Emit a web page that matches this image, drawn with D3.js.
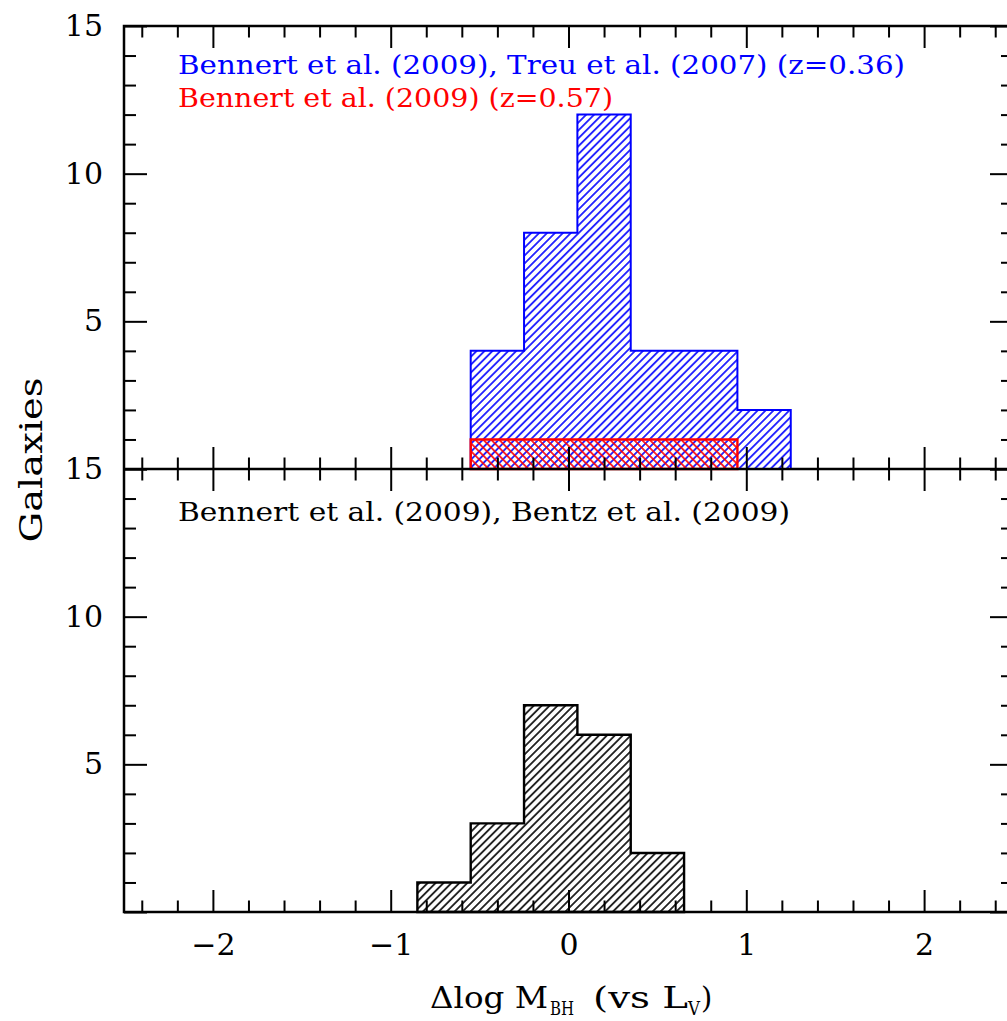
<!DOCTYPE html>
<html>
<head>
<meta charset="utf-8">
<script src="https://cdn.jsdelivr.net/npm/d3@7"></script>
<style>
  html, body { margin: 0; padding: 0; background: #fff; }
  svg { display: block; }
  text { font-family: "DejaVu Serif", "Liberation Serif", serif; }
</style>
</head>
<body>
<svg id="chart" width="1007" height="1021"></svg>
<script>
// Histogram bins of Δlog M_BH (left edges, width 0.3 dex)
const binStarts = [-0.85, -0.55, -0.25, 0.05, 0.35, 0.65, 0.95];
const binWidth = 0.3;

// Upper panel: z=0.36 sample and z=0.57 sample
const countsZ036 = [0, 4, 8, 12, 4, 4, 2];
const countsZ057 = [0, 1, 1, 1, 1, 1, 0];
// Lower panel: local reverberation-mapped sample
const countsLocal = [1, 3, 7, 6, 2, 0, 0];

const xMajorTicks = [-2, -1, 0, 1, 2];
const xMinorTicks = [-2.4, -2.2, -1.8, -1.6, -1.4, -1.2, -0.8, -0.6, -0.4, -0.2,
                     0.2, 0.4, 0.6, 0.8, 1.2, 1.4, 1.6, 1.8, 2.2, 2.4];
const yMajorTicks = [0, 5, 10, 15];
const yLabelTicks = [5, 10, 15];
const yMinorTicks = [1, 2, 3, 4, 6, 7, 8, 9, 11, 12, 13, 14];

const legendTop = [
  { text: "Bennert et al. (2009), Treu et al. (2007) (z=0.36)", color: "#0000ff" },
  { text: "Bennert et al. (2009) (z=0.57)", color: "#ff0000" }
];
const legendBottom = "Bennert et al. (2009), Bentz et al. (2009)";

const svg = d3.select("#chart");
const pLeft = 124, pRight = 1013, pTop = 26, pMid = 469, pBottom = 912;

const x = d3.scaleLinear().domain([-2.5, 2.5]).range([pLeft, pRight]);
const yTop = d3.scaleLinear().domain([0, 15]).range([pMid, pTop]);
const yBot = d3.scaleLinear().domain([0, 15]).range([pBottom, pMid]);

// Hatch patterns
const defs = svg.append("defs");
function hatch(id, color, angle, width) {
  const p = defs.append("pattern")
    .attr("id", id)
    .attr("patternUnits", "userSpaceOnUse")
    .attr("width", 5.6).attr("height", 10)
    .attr("patternTransform", `rotate(${angle})`);
  p.append("line")
    .attr("x1", 2.8).attr("x2", 2.8).attr("y1", -1).attr("y2", 11)
    .attr("stroke", color).attr("stroke-width", width);
}
hatch("hatchBlue", "#0000ff", 45, 1.6);
hatch("hatchRed", "#ff0000", -45, 1.6);
hatch("hatchBlack", "#000000", 45, 1.6);

// Step outline of a histogram as a closed path
function histPath(counts, y) {
  const idx = counts.map((c, i) => c > 0 ? i : -1).filter(i => i >= 0);
  const first = idx[0], last = idx[idx.length - 1];
  const pts = [[x(binStarts[first]), y(0)]];
  for (let i = first; i <= last; i++) {
    pts.push([x(binStarts[i]), y(counts[i])]);
    pts.push([x(binStarts[i] + binWidth), y(counts[i])]);
  }
  pts.push([x(binStarts[last] + binWidth), y(0)]);
  return d3.line()(pts) + "Z";
}

const hists = svg.append("g");
hists.append("path").attr("d", histPath(countsZ036, yTop))
  .attr("fill", "url(#hatchBlue)").attr("stroke", "#0000ff").attr("stroke-width", 2);
hists.append("path").attr("d", histPath(countsZ057, yTop))
  .attr("fill", "url(#hatchRed)").attr("stroke", "#ff0000").attr("stroke-width", 2.4);
hists.append("path").attr("d", histPath(countsLocal, yBot))
  .attr("fill", "url(#hatchBlack)").attr("stroke", "#000").attr("stroke-width", 2.4);

// Axes with inward ticks
const MAJ = 22, MIN = 11.5;
function addAxis(axisFn, scale, transform, values, size, labels) {
  const g = svg.append("g").attr("transform", transform);
  const ax = axisFn(scale).tickValues(values).tickSizeInner(-size).tickSizeOuter(0);
  if (labels) ax.tickFormat(labels.fmt).tickPadding(labels.pad);
  else ax.tickFormat("");
  g.call(ax);
  g.select(".domain").remove();
  g.selectAll(".tick line").attr("stroke", "#000").attr("stroke-width", 2);
  g.selectAll(".tick text")
    .attr("fill", "#000")
    .style("font-family", '"DejaVu Serif", serif')
    .style("font-size", "30px");
  return g;
}

const xfmt = d3.format("d");
// bottom axis of lower panel (labelled)
addAxis(d3.axisBottom, x, `translate(0,${pBottom})`, xMajorTicks, MAJ, { fmt: xfmt, pad: 22 });
addAxis(d3.axisBottom, x, `translate(0,${pBottom})`, xMinorTicks, MIN);
// shared middle line: ticks up into upper panel, down into lower panel
addAxis(d3.axisBottom, x, `translate(0,${pMid})`, xMajorTicks, MAJ);
addAxis(d3.axisBottom, x, `translate(0,${pMid})`, xMinorTicks, MIN);
addAxis(d3.axisTop, x, `translate(0,${pMid})`, xMajorTicks, MAJ);
addAxis(d3.axisTop, x, `translate(0,${pMid})`, xMinorTicks, MIN);
// top axis of upper panel
addAxis(d3.axisTop, x, `translate(0,${pTop})`, xMajorTicks, MAJ);
addAxis(d3.axisTop, x, `translate(0,${pTop})`, xMinorTicks, MIN);

const yfmt = d => yLabelTicks.includes(d) ? d3.format("d")(d) : "";
[yTop, yBot].forEach(ys => {
  addAxis(d3.axisLeft, ys, `translate(${pLeft},0)`, yMajorTicks, 23, { fmt: yfmt, pad: 21 });
  addAxis(d3.axisLeft, ys, `translate(${pLeft},0)`, yMinorTicks, 12);
  addAxis(d3.axisRight, ys, `translate(${pRight},0)`, yMajorTicks, 23);
  addAxis(d3.axisRight, ys, `translate(${pRight},0)`, yMinorTicks, 12);
});

// Frame
const frame = svg.append("g").attr("stroke", "#000").attr("stroke-width", 2.5).attr("fill", "none");
frame.append("rect").attr("x", pLeft).attr("y", pTop).attr("width", pRight - pLeft).attr("height", pBottom - pTop);
frame.append("line").attr("x1", pLeft).attr("x2", pRight).attr("y1", pMid).attr("y2", pMid);

// Legends
const legendLengths = [727, 435];
legendTop.forEach((d, i) => {
  svg.append("text")
    .attr("x", 178).attr("y", 74 + i * 33)
    .attr("fill", d.color)
    .style("font-size", "26px")
    .attr("textLength", legendLengths[i])
    .attr("lengthAdjust", "spacingAndGlyphs")
    .text(d.text);
});
svg.append("text")
  .attr("x", 178).attr("y", 521)
  .attr("fill", "#000")
  .style("font-size", "26px")
  .attr("textLength", 612)
  .attr("lengthAdjust", "spacingAndGlyphs")
  .text(legendBottom);

// Y axis title
svg.append("text")
  .attr("transform", "translate(42,460) rotate(-90)")
  .attr("text-anchor", "middle")
  .style("font-size", "32px")
  .attr("textLength", 165)
  .attr("lengthAdjust", "spacingAndGlyphs")
  .text("Galaxies");

// X axis title: Δlog M_BH (vs L_V)
const xt = svg.append("g").attr("fill", "#000");
xt.append("text").attr("x", 430).attr("y", 1008).style("font-size", "29px")
  .attr("textLength", 118).attr("lengthAdjust", "spacingAndGlyphs").text("Δlog M");
xt.append("text").attr("x", 550).attr("y", 1015).style("font-size", "18px")
  .attr("textLength", 24).attr("lengthAdjust", "spacingAndGlyphs").text("BH");
xt.append("text").attr("x", 593).attr("y", 1008).style("font-size", "29px")
  .attr("textLength", 95).attr("lengthAdjust", "spacingAndGlyphs").text("(vs L");
xt.append("text").attr("x", 688).attr("y", 1015).style("font-size", "18px")
  .attr("textLength", 12).attr("lengthAdjust", "spacingAndGlyphs").text("V");
xt.append("text").attr("x", 701).attr("y", 1008).style("font-size", "29px").text(")");
</script>
</body>
</html>
